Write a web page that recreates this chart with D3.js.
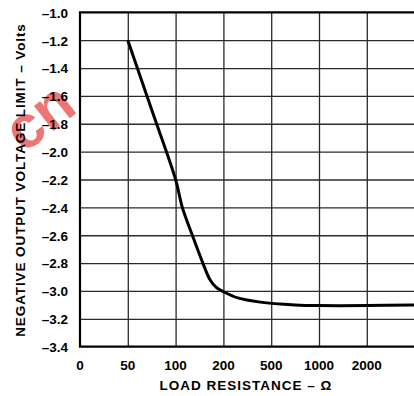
<!DOCTYPE html>
<html><head><meta charset="utf-8">
<script src="https://cdn.jsdelivr.net/npm/d3@7"></script>
<style>body{margin:0;background:#fff}svg{display:block}text{font-family:"Liberation Sans",Arial,sans-serif;font-weight:bold;fill:#000}</style>
</head><body><svg id="c" width="414" height="396"></svg>
<script>
// categorical x positions (index), labels
const xLabels = ["0","50","100","200","500","1000","2000",""];
const yTicks = [-1.0,-1.2,-1.4,-1.6,-1.8,-2.0,-2.2,-2.4,-2.6,-2.8,-3.0,-3.2,-3.4];
// curve: position along categorical axis and voltage
const curveX = [1, 1.5, 2, 2.14, 2.35, 2.57, 2.72, 2.85, 3, 3.3, 3.77, 4.5, 5, 6, 7];
const curveY = [-1.2, -1.7, -2.2, -2.4, -2.6, -2.8, -2.92, -2.975, -3.005, -3.05, -3.08, -3.10, -3.105, -3.105, -3.10];

const svg = d3.select("#c");
const PL = 80, PR = 414.6, PT = 12.3, PB = 346.7;
const xs = d3.scaleLinear().domain([0,7]).range([PL,PR]);
const ys = d3.scaleLinear().domain([-1.0,-3.4]).range([PT,PB]);

// watermark
svg.append("text").attr("opacity",0.7).attr("transform","translate(24,154) rotate(-38)")
  .style("font-size","60px").style("fill","#e43c3c").text("cn");

// grid via axes
const gx = svg.append("g").attr("transform",`translate(0,${PB})`)
  .call(d3.axisBottom(xs).tickValues(d3.range(1,8)).tickSize(-(PB-PT)).tickFormat(""));
gx.select(".domain").remove();
gx.selectAll(".tick line").attr("stroke","#2a2a2a").attr("stroke-width",1.3);
const gy = svg.append("g").attr("transform",`translate(${PL},0)`)
  .call(d3.axisLeft(ys).tickValues(yTicks.slice(1,-1)).tickSize(-(PR-PL)).tickFormat(""));
gy.select(".domain").remove();
gy.selectAll(".tick line").attr("stroke","#2a2a2a").attr("stroke-width",1.3);

// frame
const fr = d3.path();
fr.moveTo(PR, PT); fr.lineTo(PL, PT); fr.lineTo(PL, PB); fr.lineTo(PR, PB);
svg.append("path").attr("d", fr.toString()).attr("fill","none").attr("stroke","#000").attr("stroke-width",2.2);

// curve
const pts = curveX.map((d,i)=>[d,curveY[i]]);
svg.append("path").datum(pts)
  .attr("d", d3.line().x(d=>xs(d[0])).y(d=>ys(d[1])).curve(d3.curveCatmullRom.alpha(0.5)))
  .attr("fill","none").attr("stroke","#000").attr("stroke-width",3);

// y tick labels
const ya = svg.append("g").attr("transform","translate(68,0)")
  .call(d3.axisLeft(ys).tickValues(yTicks).tickSize(0).tickPadding(0)
    .tickFormat(d=>d3.format(".1f")(d).replace("\u2212","\u2013").replace("-","\u2013")));
ya.select(".domain").remove();
ya.attr("font-family",null).attr("font-size",null);
ya.selectAll("text").attr("fill",null).attr("dy","0.36em").style("font-size","13.5px");

// x tick labels
svg.append("g").selectAll("text").data(xLabels).join("text")
  .attr("x",(d,i)=>xs(i)).attr("y",370).attr("text-anchor","middle")
  .style("font-size","13.5px").text(d=>d);

// titles
svg.append("text").attr("x",246).attr("y",390).attr("text-anchor","middle")
  .style("font-size","13.5px").style("letter-spacing","1px").text("LOAD RESISTANCE \u2013 \u03A9");
svg.append("text").attr("transform","translate(25,180) rotate(-90)").attr("text-anchor","middle")
  .style("font-size","13.5px").style("letter-spacing","0.9px").text("NEGATIVE OUTPUT VOLTAGE LIMIT \u2013 Volts");
</script></body></html>
